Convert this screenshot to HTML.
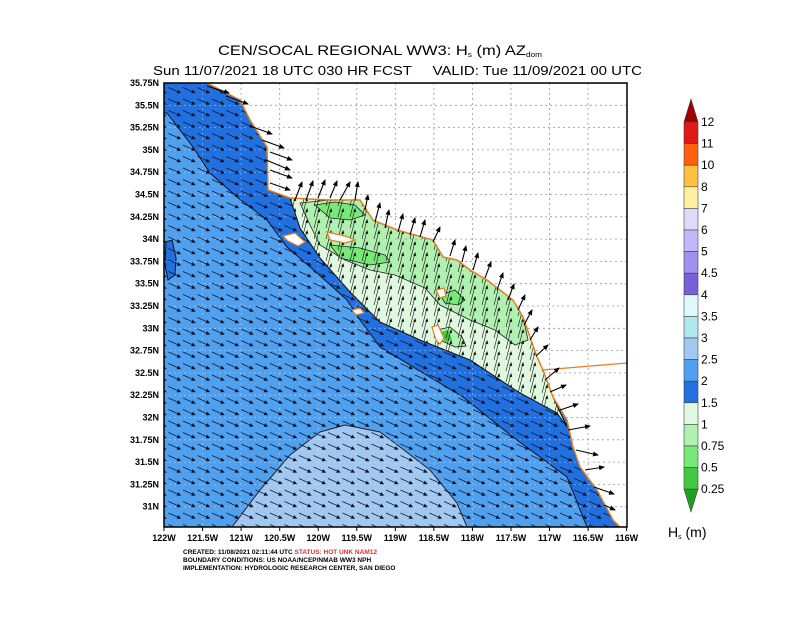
<!DOCTYPE html>
<html><head><meta charset="utf-8"><style>
body{margin:0;background:#fff}
svg text{font-family:"Liberation Sans",sans-serif}
</style></head><body>
<svg width="792" height="612" viewBox="0 0 792 612" xmlns="http://www.w3.org/2000/svg">
<defs>
<clipPath id="pc"><rect x="164" y="83" width="463" height="444"/></clipPath>
<pattern id="pa" patternUnits="userSpaceOnUse" x="168" y="86" width="14.5" height="11.5">
<line x1="0.5" y1="1.5" x2="11" y2="6.2" stroke="#112" stroke-width="0.7"/>
<polygon points="13.2,7.1 8.6,7.2 10.2,3.6" fill="#112"/>
</pattern>
<pattern id="pg" patternUnits="userSpaceOnUse" x="168" y="86" width="12" height="11">
<line x1="2" y1="21" x2="7" y2="2" stroke="#111" stroke-width="0.6"/>
<line x1="2" y1="10" x2="7" y2="-9" stroke="#111" stroke-width="0.6"/>
<polygon points="7.3,1 5.2,4.5 8.2,5" fill="#111"/>
</pattern>
<marker id="m" markerWidth="6" markerHeight="6" refX="5" refY="3" orient="auto" markerUnits="userSpaceOnUse"><polygon points="0,0.5 6,3 0,5.5" fill="#000"/></marker>
</defs>
<rect width="792" height="612" fill="#fff"/>
<g clip-path="url(#pc)">
<rect x="164" y="83" width="463" height="444" fill="#50a0f0"/>
<polygon fill="#a0c8f0" stroke="#223" stroke-width="1" points="232,527 260,490 290,455 320,432 345,425 380,432 400,447 430,470 457,503 467,527"/>
<polygon fill="#2070e0" stroke="#112" stroke-width="1" points="164,83 207,83 240,100 250,120 267,147 268,190 290,198 330,200 360,200 373,220 397,230 433,240 443,257 457,260 470,270 487,280 513,300 523,317 530,337 537,357 543,370 553,397 567,420 573,447 580,467 597,490 613,520 620,527 587,527 567,477 513,437 463,397 380,347 360,320 347,300 317,273 287,247 267,220 237,197 210,173 193,147 167,113 164,113"/>
<polygon fill="#2070e0" stroke="#112" stroke-width="1" points="166,242 172,240 176,258 175,275 168,280 165,265"/>
<g stroke="#dde8ff" stroke-opacity="0.5" stroke-dasharray="2,3" stroke-width="0.8">
<line x1="202.6" y1="83" x2="202.6" y2="527"/><line x1="241.1" y1="83" x2="241.1" y2="527"/><line x1="279.7" y1="83" x2="279.7" y2="527"/><line x1="318.2" y1="83" x2="318.2" y2="527"/><line x1="356.8" y1="83" x2="356.8" y2="527"/><line x1="395.3" y1="83" x2="395.3" y2="527"/><line x1="433.9" y1="83" x2="433.9" y2="527"/><line x1="472.4" y1="83" x2="472.4" y2="527"/><line x1="511" y1="83" x2="511" y2="527"/><line x1="549.5" y1="83" x2="549.5" y2="527"/><line x1="588.1" y1="83" x2="588.1" y2="527"/>
<line x1="164" y1="105.3" x2="627" y2="105.3"/><line x1="164" y1="127.6" x2="627" y2="127.6"/><line x1="164" y1="149.9" x2="627" y2="149.9"/><line x1="164" y1="172.2" x2="627" y2="172.2"/><line x1="164" y1="194.5" x2="627" y2="194.5"/><line x1="164" y1="216.8" x2="627" y2="216.8"/><line x1="164" y1="239.1" x2="627" y2="239.1"/><line x1="164" y1="261.4" x2="627" y2="261.4"/><line x1="164" y1="283.7" x2="627" y2="283.7"/><line x1="164" y1="306" x2="627" y2="306"/><line x1="164" y1="328.3" x2="627" y2="328.3"/><line x1="164" y1="350.6" x2="627" y2="350.6"/><line x1="164" y1="372.9" x2="627" y2="372.9"/><line x1="164" y1="395.2" x2="627" y2="395.2"/><line x1="164" y1="417.5" x2="627" y2="417.5"/><line x1="164" y1="439.8" x2="627" y2="439.8"/><line x1="164" y1="462.1" x2="627" y2="462.1"/><line x1="164" y1="484.4" x2="627" y2="484.4"/><line x1="164" y1="506.7" x2="627" y2="506.7"/>
</g>
<rect x="164" y="83" width="463" height="444" fill="url(#pa)"/>
<polygon fill="#e0f8e0" stroke="#111" stroke-width="1" points="290,198 330,200 360,200 373,220 397,230 433,240 443,257 457,260 470,270 487,280 513,300 523,317 530,337 537,357 543,370 553,397 567,427 557,413 520,393 470,360 420,340 380,322 350,292 320,258 300,228"/>
<polygon fill="#b0f0b0" stroke="#222" stroke-width="0.8" points="300,203 330,200 360,200 373,220 397,230 433,240 443,257 457,260 470,270 487,280 513,300 523,317 528,340 515,345 495,330 470,320 440,305 425,288 395,275 370,270 345,260 320,245 310,225"/>
<polygon fill="#78e878" stroke="#222" stroke-width="0.8" points="315,205 335,202 355,205 365,215 350,220 330,218"/>
<polygon fill="#78e878" stroke="#222" stroke-width="0.8" points="330,245 360,248 385,255 390,262 370,265 340,258"/>
<polygon fill="#78e878" stroke="#222" stroke-width="0.8" points="440,295 455,290 465,300 458,305 445,303"/>
<polygon fill="#b0f0b0" stroke="#111" stroke-width="0.8" points="437,330 450,327 462,337 466,346 455,347 440,340"/>
<polygon fill="#40c840" points="441,332 448,330 452,340 445,342"/>
<polygon fill="url(#pg)" points="290,198 330,200 360,200 373,220 397,230 433,240 443,257 457,260 470,270 487,280 513,300 523,317 530,337 537,357 543,370 553,397 567,427 557,413 520,393 470,360 420,340 380,322 350,292 320,258 300,228"/>
<polygon fill="#fff" stroke="#e08020" stroke-width="1.5" points="207,83 240,100 250,120 267,147 268,190 290,198 330,200 360,200 373,220 397,230 433,240 443,257 457,260 470,270 487,280 513,300 523,317 530,337 537,357 543,370 553,397 567,420 573,447 580,467 597,490 613,520 620,527 640,527 640,83"/>
<polyline fill="none" stroke="#e08020" stroke-width="1.3" points="543,370 627,363"/>
<polygon fill="#fff" stroke="#e08020" stroke-width="1.2" points="283,236 295,233 305,242 298,246 288,241"/>
<polygon fill="#fff" stroke="#e08020" stroke-width="1.2" points="327,232 345,236 355,240 345,243 330,240"/>
<polygon fill="#fff" stroke="#e08020" stroke-width="1.2" points="352,310 360,308 364,313 356,315"/>
<polygon fill="#fff" stroke="#e08020" stroke-width="1.2" points="432,327 438,325 444,338 440,344 436,340"/>
<polygon fill="#fff" stroke="#e08020" stroke-width="1.2" points="436,290 444,288 446,296 440,298"/>
<g stroke="#999" stroke-dasharray="2,3" stroke-width="0.8">
<line x1="241.1" y1="83" x2="241.1" y2="100"/><line x1="279.7" y1="83" x2="279.7" y2="196"/><line x1="318.2" y1="83" x2="318.2" y2="199"/><line x1="356.8" y1="83" x2="356.8" y2="200"/><line x1="395.3" y1="83" x2="395.3" y2="229"/><line x1="433.9" y1="83" x2="433.9" y2="242"/><line x1="472.4" y1="83" x2="472.4" y2="271"/><line x1="511" y1="83" x2="511" y2="298"/><line x1="549.5" y1="83" x2="549.5" y2="387"/><line x1="588.1" y1="83" x2="588.1" y2="478"/>
<line x1="250" y1="105.3" x2="627" y2="105.3"/><line x1="258" y1="127.6" x2="627" y2="127.6"/><line x1="267" y1="149.9" x2="627" y2="149.9"/><line x1="268" y1="172.2" x2="627" y2="172.2"/><line x1="290" y1="194.5" x2="627" y2="194.5"/><line x1="370" y1="216.8" x2="627" y2="216.8"/><line x1="395" y1="239.1" x2="627" y2="239.1"/><line x1="460" y1="261.4" x2="627" y2="261.4"/><line x1="490" y1="283.7" x2="627" y2="283.7"/><line x1="517" y1="306" x2="627" y2="306"/><line x1="528" y1="328.3" x2="627" y2="328.3"/><line x1="536" y1="350.6" x2="627" y2="350.6"/><line x1="544" y1="372.9" x2="627" y2="372.9"/><line x1="553" y1="395.2" x2="627" y2="395.2"/><line x1="566" y1="417.5" x2="627" y2="417.5"/><line x1="572" y1="439.8" x2="627" y2="439.8"/><line x1="578" y1="462.1" x2="627" y2="462.1"/><line x1="593" y1="484.4" x2="627" y2="484.4"/><line x1="605" y1="506.7" x2="627" y2="506.7"/>
</g>
<g stroke="#000" stroke-width="1.1" marker-end="url(#m)">
<line x1="207" y1="86" x2="229" y2="93"/><line x1="226" y1="96" x2="248" y2="104"/><line x1="250" y1="126" x2="272" y2="134"/><line x1="262" y1="140" x2="284" y2="148"/><line x1="270" y1="152" x2="292" y2="160"/><line x1="266" y1="160" x2="290" y2="170"/><line x1="270" y1="170" x2="292" y2="178"/><line x1="270" y1="183" x2="290" y2="190"/>
<line x1="295" y1="200" x2="302" y2="182"/><line x1="306" y1="200" x2="313" y2="181"/><line x1="318" y1="198" x2="325" y2="180"/><line x1="330" y1="198" x2="337" y2="181"/><line x1="340" y1="200" x2="350" y2="182"/><line x1="355" y1="200" x2="358" y2="182"/><line x1="365" y1="210" x2="368" y2="195"/><line x1="375" y1="222" x2="380" y2="203"/><line x1="385" y1="228" x2="389" y2="210"/><line x1="398" y1="232" x2="403" y2="214"/><line x1="410" y1="235" x2="415" y2="218"/><line x1="420" y1="237" x2="425" y2="220"/><line x1="433" y1="242" x2="440" y2="227"/><line x1="450" y1="256" x2="455" y2="240"/><line x1="462" y1="262" x2="466" y2="246"/><line x1="473" y1="270" x2="478" y2="253"/><line x1="485" y1="278" x2="491" y2="262"/><line x1="497" y1="290" x2="503" y2="273"/><line x1="508" y1="300" x2="514" y2="284"/><line x1="518" y1="310" x2="525" y2="295"/><line x1="524" y1="325" x2="532" y2="310"/><line x1="530" y1="340" x2="538" y2="327"/><line x1="536" y1="356" x2="548" y2="345"/>
<line x1="545" y1="380" x2="559" y2="368"/><line x1="550" y1="392" x2="566" y2="385"/><line x1="560" y1="410" x2="578" y2="404"/><line x1="568" y1="430" x2="590" y2="426"/><line x1="576" y1="450" x2="598" y2="455"/><line x1="585" y1="470" x2="604" y2="467"/><line x1="594" y1="487" x2="614" y2="494"/><line x1="604" y1="505" x2="615" y2="510"/>
</g>
</g>
<rect x="164" y="83" width="463" height="444" fill="none" stroke="#000" stroke-width="1.5"/>
<g stroke="#000">
<line x1="164" y1="527" x2="164" y2="531"/><line x1="202.6" y1="527" x2="202.6" y2="531"/><line x1="241.1" y1="527" x2="241.1" y2="531"/><line x1="279.7" y1="527" x2="279.7" y2="531"/><line x1="318.2" y1="527" x2="318.2" y2="531"/><line x1="356.8" y1="527" x2="356.8" y2="531"/><line x1="395.3" y1="527" x2="395.3" y2="531"/><line x1="433.9" y1="527" x2="433.9" y2="531"/><line x1="472.4" y1="527" x2="472.4" y2="531"/><line x1="511" y1="527" x2="511" y2="531"/><line x1="549.5" y1="527" x2="549.5" y2="531"/><line x1="588.1" y1="527" x2="588.1" y2="531"/><line x1="626.6" y1="527" x2="626.6" y2="531"/>
</g>
<g font-size="9" font-weight="bold" text-anchor="middle">
<text x="164" y="541">122W</text><text x="202.6" y="541">121.5W</text><text x="241.1" y="541">121W</text><text x="279.7" y="541">120.5W</text><text x="318.2" y="541">120W</text><text x="356.8" y="541">119.5W</text><text x="395.3" y="541">119W</text><text x="433.9" y="541">118.5W</text><text x="472.4" y="541">118W</text><text x="511" y="541">117.5W</text><text x="549.5" y="541">117W</text><text x="588.1" y="541">116.5W</text><text x="626.6" y="541">116W</text>
</g>
<g font-size="9" font-weight="bold" text-anchor="end">
<text x="159" y="86">35.75N</text><text x="159" y="108.3">35.5N</text><text x="159" y="130.6">35.25N</text><text x="159" y="152.9">35N</text><text x="159" y="175.2">34.75N</text><text x="159" y="197.5">34.5N</text><text x="159" y="219.8">34.25N</text><text x="159" y="242.1">34N</text><text x="159" y="264.4">33.75N</text><text x="159" y="286.7">33.5N</text><text x="159" y="309">33.25N</text><text x="159" y="331.3">33N</text><text x="159" y="353.6">32.75N</text><text x="159" y="375.9">32.5N</text><text x="159" y="398.2">32.25N</text><text x="159" y="420.5">32N</text><text x="159" y="442.8">31.75N</text><text x="159" y="465.1">31.5N</text><text x="159" y="487.4">31.25N</text><text x="159" y="509.7">31N</text>
</g>
<text x="218" y="55" font-size="14" textLength="324" lengthAdjust="spacingAndGlyphs">CEN/SOCAL REGIONAL WW3: H<tspan font-size="7" dy="2">s</tspan><tspan dy="-2"> (m) AZ</tspan><tspan font-size="7" dy="2">dom</tspan></text>
<text x="153" y="75" font-size="13" textLength="489" lengthAdjust="spacingAndGlyphs">Sun 11/07/2021 18 UTC 030 HR FCST &#160;&#160;&#160; VALID: Tue 11/09/2021 00 UTC</text>
<g font-size="6.5" font-weight="bold">
<text x="183" y="554">CREATED: 11/08/2021 02:11:44 UTC <tspan fill="#e03030">STATUS: HOT UNK NAM12</tspan></text>
<text x="183" y="562">BOUNDARY CONDITIONS: US NOAA/NCEP/NMAB WW3 NPH</text>
<text x="183" y="570">IMPLEMENTATION: HYDROLOGIC RESEARCH CENTER, SAN DIEGO</text>
</g>
<g stroke="#444" stroke-width="0.6">
<polygon points="684,122 698,122 691,99" fill="#a00000"/>
<rect x="684" y="122" width="14" height="21.6" fill="#e01818"/>
<rect x="684" y="143.6" width="14" height="21.6" fill="#ff6010"/>
<rect x="684" y="165.2" width="14" height="21.6" fill="#ffc040"/>
<rect x="684" y="186.8" width="14" height="21.6" fill="#fff0a0"/>
<rect x="684" y="208.4" width="14" height="21.6" fill="#dcdcf8"/>
<rect x="684" y="230" width="14" height="21.6" fill="#c0b8f8"/>
<rect x="684" y="251.6" width="14" height="21.6" fill="#a090f0"/>
<rect x="684" y="273.2" width="14" height="21.6" fill="#7860d8"/>
<rect x="684" y="294.8" width="14" height="21.6" fill="#e0f8ff"/>
<rect x="684" y="316.4" width="14" height="21.6" fill="#b0e8f0"/>
<rect x="684" y="338" width="14" height="21.6" fill="#a0c8f0"/>
<rect x="684" y="359.6" width="14" height="21.6" fill="#50a0f0"/>
<rect x="684" y="381.2" width="14" height="21.6" fill="#2070e0"/>
<rect x="684" y="402.8" width="14" height="21.6" fill="#e0f8e0"/>
<rect x="684" y="424.4" width="14" height="21.6" fill="#b0f0b0"/>
<rect x="684" y="446" width="14" height="21.6" fill="#78e878"/>
<rect x="684" y="467.6" width="14" height="21.6" fill="#40c840"/>
<polygon points="684,489.2 698,489.2 691,512" fill="#20a020"/>
</g>
<g font-size="12">
<text x="701" y="126">12</text><text x="701" y="147.6">11</text><text x="701" y="169.2">10</text><text x="701" y="190.8">8</text><text x="701" y="212.4">7</text><text x="701" y="234">6</text><text x="701" y="255.6">5</text><text x="701" y="277.2">4.5</text><text x="701" y="298.8">4</text><text x="701" y="320.4">3.5</text><text x="701" y="342">3</text><text x="701" y="363.6">2.5</text><text x="701" y="385.2">2</text><text x="701" y="406.8">1.5</text><text x="701" y="428.4">1</text><text x="701" y="450">0.75</text><text x="701" y="471.6">0.5</text><text x="701" y="493.2">0.25</text>
</g>
<text x="668" y="537" font-size="14">H<tspan font-size="7" dy="2">s</tspan><tspan dy="-2"> (m)</tspan></text>
</svg>
</body></html>
